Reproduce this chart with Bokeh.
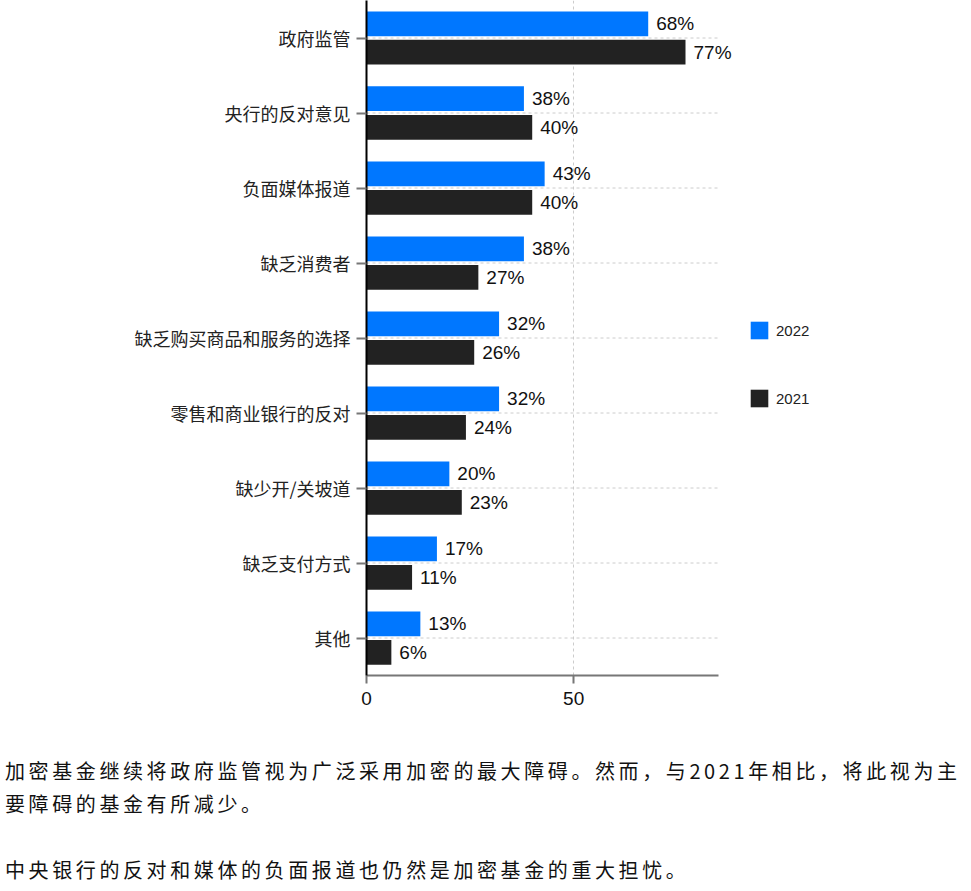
from bokeh.plotting import figure
from bokeh.models import (ColumnDataSource, FactorRange, FixedTicker, Legend, LegendItem, Div)
from bokeh.transform import dodge
from bokeh.layouts import column
from bokeh.embed import file_html
from bokeh.resources import INLINE
from bokeh.core.properties import value

categories = ["政府监管", "央行的反对意见", "负面媒体报道", "缺乏消费者",
              "缺乏购买商品和服务的选择", "零售和商业银行的反对", "缺少开/关坡道",
              "缺乏支付方式", "其他"]
values_2022 = [68, 38, 43, 38, 32, 32, 20, 17, 13]
values_2021 = [77, 40, 40, 27, 26, 24, 23, 11, 6]
series_names = ["2022", "2021"]
x_ticks = [0, 50]
x_max = 85
note_line1 = "加密基金继续将政府监管视为广泛采用加密的最大障碍。然而，与2021年相比，将此视为主"
note_line2 = "要障碍的基金有所减少。"
note_line3 = "中央银行的反对和媒体的负面报道也仍然是加密基金的重大担忧。"

BLUE = "#0077FF"
DARK = "#222222"
GRID = "#cccccc"

src = ColumnDataSource(dict(
    cat=categories,
    v22=values_2022,
    v21=values_2021,
    l22=[f"{v}%" for v in values_2022],
    l21=[f"{v}%" for v in values_2021],
    zero=[0] * len(categories),
    xmax=[x_max] * len(categories),
))

# frame extends to the right so that labels and legend are not clipped;
# axis is bounded to the data range 0..85
p = figure(y_range=FactorRange(*reversed(categories)), x_range=(0, 112),
           width=955, height=746, output_backend="svg", toolbar_location=None,
           min_border_left=366, min_border_right=125, min_border_top=0,
           min_border_bottom=71)
p.outline_line_color = None

# horizontal dashed grid lines at category centres, limited to 0..85
p.segment(x0="zero", x1="xmax", y0="cat", y1="cat", source=src,
          line_color=GRID, line_dash="3 3", line_width=1)

r22 = p.hbar(y=dodge("cat", 0.19, range=p.y_range), right="v22", left=0, height=0.33,
             source=src, fill_color=BLUE, line_color=None)
r21 = p.hbar(y=dodge("cat", -0.19, range=p.y_range), right="v21", left=0, height=0.33,
             source=src, fill_color=DARK, line_color=None)

for col, lab, d in (("v22", "l22", 0.19), ("v21", "l21", -0.19)):
    p.text(x=col, y=dodge("cat", d, range=p.y_range), text=lab, source=src,
           x_offset=8, text_baseline="middle", text_align="left",
           text_font=value("Liberation Sans"), text_font_size="19px", text_color="#111111")

# axes
p.xaxis.ticker = FixedTicker(ticks=x_ticks)
p.xaxis.bounds = (0, x_max)
p.xaxis.axis_line_color = "#777777"
p.xaxis.axis_line_width = 2
p.xaxis.major_tick_line_color = "#777777"
p.xaxis.major_tick_line_width = 2
p.xaxis.major_tick_out = 8
p.xaxis.major_tick_in = 0
p.xaxis.minor_tick_line_color = None
p.xaxis.major_label_text_font = "Liberation Sans"
p.xaxis.major_label_text_font_size = "19px"
p.xaxis.major_label_text_color = "#111111"
p.xaxis.major_label_standoff = 8

p.yaxis.axis_line_color = "#000000"
p.yaxis.axis_line_width = 2
p.yaxis.major_tick_line_color = "#777777"
p.yaxis.major_tick_line_width = 2
p.yaxis.major_tick_out = 10
p.yaxis.major_tick_in = 0
p.yaxis.major_label_text_font = "Noto Sans CJK SC"
p.yaxis.major_label_text_font_size = "18px"
p.yaxis.major_label_text_color = "#222222"
p.yaxis.major_label_standoff = 6

p.xgrid.grid_line_color = GRID
p.xgrid.grid_line_dash = "3 3"
p.ygrid.grid_line_color = None

legend = Legend(items=[LegendItem(label=series_names[0], renderers=[r22]),
                       LegendItem(label=series_names[1], renderers=[r21])],
                location=(382, 266), orientation="vertical",
                glyph_width=22, glyph_height=22, label_height=22, label_width=44,
                spacing=46, padding=0, margin=0, label_standoff=6,
                border_line_color=None, background_fill_alpha=0,
                label_text_font="Liberation Sans", label_text_font_size="15px",
                label_text_color="#222222")
p.add_layout(legend, "center")

note = Div(text=(
    f'<div style="font-family:\'Noto Sans CJK SC\',sans-serif;font-size:20px;'
    f'letter-spacing:3.6px;line-height:33px;color:#111;white-space:nowrap;'
    f'margin:0;padding:3px 0 0 0;">'
    f'{note_line1}<br>{note_line2}<br><br>{note_line3}</div>'),
    width=971)

layout = column(p, note, spacing=0)
open("out.html", "w").write(file_html(layout, INLINE))
